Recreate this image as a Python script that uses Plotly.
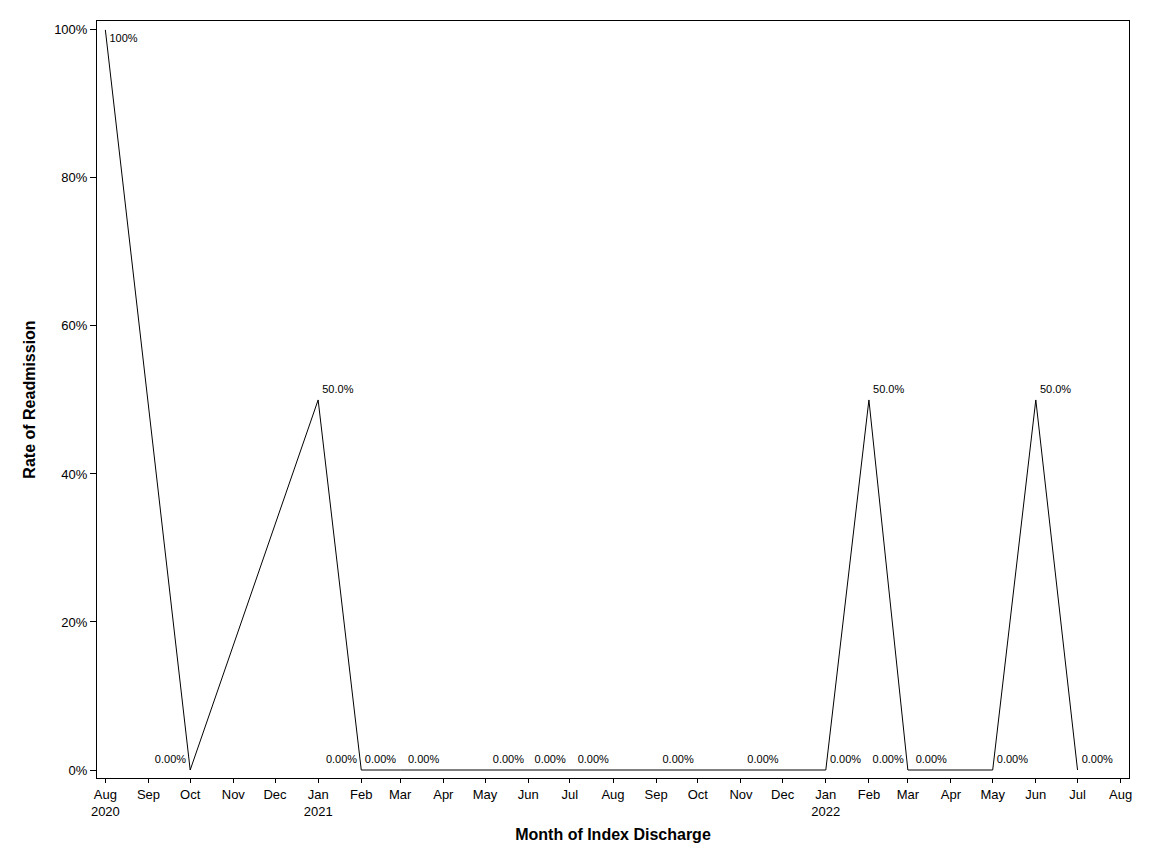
import pandas as pd
import plotly.graph_objects as go

# ── Data ────────────────────────────────────────────────────────────────
months = [
    "2020-08-01", "2020-10-01", "2021-01-01", "2021-02-01", "2021-03-01",
    "2021-04-01", "2021-06-01", "2021-07-01", "2021-08-01", "2021-10-01",
    "2021-12-01", "2022-01-01", "2022-02-01", "2022-03-01", "2022-04-01",
    "2022-05-01", "2022-06-01", "2022-07-01",
]
rates = [1.0, 0.0, 0.5, 0.0, 0.0, 0.0, 0.0, 0.0, 0.0, 0.0,
         0.0, 0.0, 0.5, 0.0, 0.0, 0.0, 0.5, 0.0]

tick_months = pd.date_range("2020-08-01", "2022-08-01", freq="MS")

# label placement (mimics the collision-avoided SAS labels)
label_pos = ["bottom right", "top left", "top right", "top left", "top left",
             "top left", "top left", "top left", "top left", "top left",
             "top left", "top right", "top right", "top left", "top left",
             "top right", "top right", "top right"]


def fmt_label(v):
    if v >= 1:
        return f"{v:.0%}"
    if v == 0:
        return f"{v:.2%}"
    return f"{v:.1%}"


tick_text = []
for d in tick_months:
    if d.month == 1 or d == tick_months[0]:
        tick_text.append(f"{d:%b}<br>{d:%Y}")
    else:
        tick_text.append(f"{d:%b}")

FONT = "Liberation Sans, Arial, sans-serif"

fig = go.Figure()
fig.add_trace(go.Scatter(
    x=pd.to_datetime(months),
    y=rates,
    mode="lines+markers+text",
    line=dict(color="black", width=1),
    # invisible markers only push the labels a little away from the vertices
    marker=dict(size=5, opacity=0),
    text=[fmt_label(v) for v in rates],
    textposition=label_pos,
    textfont=dict(family=FONT, size=11, color="black"),
    cliponaxis=False,
    showlegend=False,
))

# page body has an 8px margin, so the figure is sized to fit inside it
fig.update_layout(
    width=1136, height=848,
    margin=dict(l=89, r=13, t=13, b=78),
    paper_bgcolor="white",
    plot_bgcolor="white",
    font=dict(family=FONT, size=13, color="black"),
)

fig.update_xaxes(
    range=["2020-07-26", "2022-08-07"],
    tickvals=tick_months,
    ticktext=tick_text,
    ticks="outside", ticklen=4, tickcolor="black",
    showline=True, linecolor="black", linewidth=1, mirror=True,
    showgrid=False, zeroline=False,
    tickfont=dict(size=13),
    title=dict(text="<b>Month of Index Discharge</b>", font=dict(size=16), standoff=11),
)
fig.update_yaxes(
    range=[-0.0108, 1.012],
    tickvals=[0, 0.2, 0.4, 0.6, 0.8, 1.0],
    tickformat=".0%",
    ticks="outside", ticklen=6, tickcolor="black",
    showline=True, linecolor="black", linewidth=1, mirror=True,
    showgrid=False, zeroline=False,
    tickfont=dict(size=13),
    title=dict(text="<b>Rate of Readmission</b>", font=dict(size=16), standoff=14),
)

fig.write_html("out.html")
